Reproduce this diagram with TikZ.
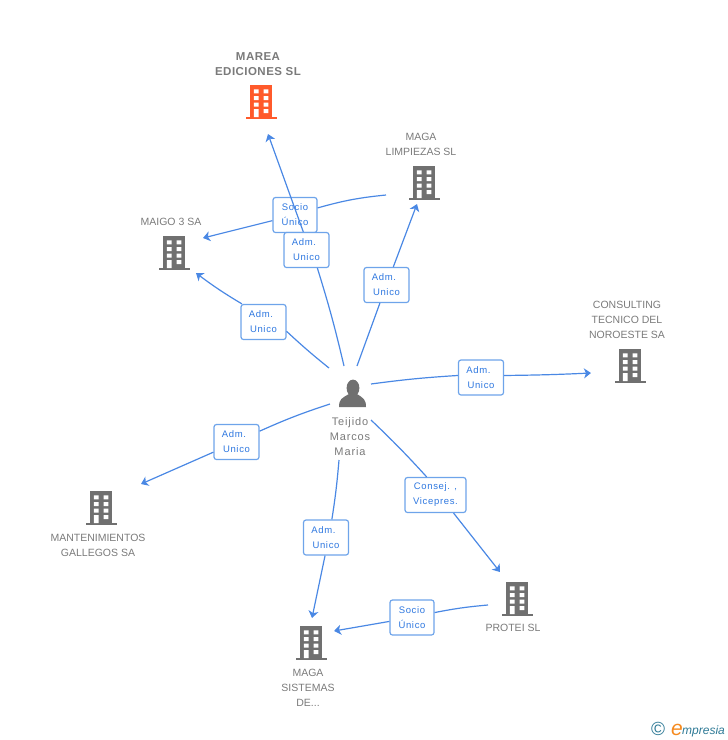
\documentclass[tikz,border=0pt]{standalone}
\usepackage{fontspec}
\setmainfont{Liberation Sans}
\newfontfamily\spacedfont[LetterSpace=7]{Liberation Sans}
\newfontfamily\namefont[LetterSpace=8]{Liberation Sans}
\newfontfamily\titlefont[LetterSpace=4,BoldFont={Liberation Sans Bold}]{Liberation Sans}
\usetikzlibrary{arrows.meta}
\definecolor{edgeblue}{HTML}{4A88E4}
\definecolor{boxblue}{HTML}{6EA4EA}
\definecolor{boxtext}{HTML}{2F78E0}
\definecolor{labelgray}{HTML}{7A7A7A}
\definecolor{icongray}{HTML}{707070}
\definecolor{iconred}{HTML}{FF5A2B}
\definecolor{logoteal}{HTML}{2F7A96}
\definecolor{logoorange}{HTML}{F58A1F}
\newcommand{\admtext}{Adm.\kern5pt\\Unico}
\tikzset{
  x=1pt,y=-1pt,
  edgeline/.style={draw=edgeblue,line width=1.2pt},
  arrowline/.style={edgeline,-{Stealth[length=7pt,width=10pt,inset=2pt]}},
  relbox/.style={draw=boxblue,line width=1.2pt,fill=white,rounded corners=2.5pt,
    inner sep=0pt,minimum height=35pt,align=center,text=boxtext,
    font=\fontsize{9.5}{15}\spacedfont},
  complabel/.style={text=labelgray,align=center,inner sep=0pt,anchor=south,
    font=\fontsize{10.5}{15}\selectfont},
  pics/building/.style={code={
    \fill[#1] (-11,0) rectangle (11,32);
    \fill[#1] (-15.5,32) rectangle (16,34);
    \fill[white] (-7.2,4.3) rectangle (-2.5,8.3) (2.7,4.3) rectangle (7.4,8.3)
      (-7.2,11) rectangle (-2.5,15) (2.7,11) rectangle (7.4,15)
      (-7.2,17.7) rectangle (-2.5,21.7) (2.7,17.7) rectangle (7.4,21.7)
      (-7.2,24) rectangle (-2.5,32) (2.7,24) rectangle (7.4,28);
  }},
}
\begin{document}
\begin{tikzpicture}
\useasboundingbox (0,0) rectangle (728,740);
% buildings
\pic at (261,85) {building=iconred};
\pic at (424,166) {building=icongray};
\pic at (174,236) {building=icongray};
\pic at (630,349) {building=icongray};
\pic at (101,491) {building=icongray};
\pic at (517,582) {building=icongray};
\pic at (311,626) {building=icongray};
% person icon
\fill[icongray] (353,388) ellipse (6.4 and 8.4);
\fill[icongray] (339,407) .. controls (339,399) and (342,398) .. (349,394)
  -- (357,394) .. controls (363,398) and (366,399) .. (366,407) -- cycle;
% labels
\node[complabel,font=\fontsize{11.5}{15}\titlefont\bfseries] (lmarea) at (258,76) {MAREA\\EDICIONES SL};
\node[complabel] (llimp) at (421,156) {MAGA\\LIMPIEZAS SL};
\node[complabel] (lmaigo) at (171,226) {MAIGO 3 SA};
\node[complabel] (lcons) at (627,339) {CONSULTING\\TECNICO DEL\\NOROESTE SA};
\node[complabel,anchor=north] (lmant) at (98,534) {MANTENIMIENTOS\\GALLEGOS SA};
\node[complabel,anchor=north] (lprot) at (513,624) {PROTEI SL};
\node[complabel,anchor=north] (lsist) at (308,669) {MAGA\\SISTEMAS\\DE...};
\node[complabel,anchor=north,font=\fontsize{11}{15}\namefont] (lperson) at (350,417) {Teijido\\Marcos\\Maria};
% free ends
\coordinate (pmarea) at (344,366);
\coordinate (amarea) at (268,134);
\coordinate (slimp) at (386,195);
\coordinate (amaigoa) at (203,238);
\coordinate (plimp) at (357,366);
\coordinate (alimp) at (417,204);
\coordinate (pmaigo) at (329,368);
\coordinate (amaigob) at (196,273);
\coordinate (pcons) at (371,384);
\coordinate (acons) at (591,373);
\coordinate (pmant) at (330,404);
\coordinate (amant) at (141,484);
\coordinate (pprot) at (371,420);
\coordinate (aprot) at (500,572);
\coordinate (psist) at (339,460);
\coordinate (asist) at (312,618);
\coordinate (sprot) at (488,605);
\coordinate (asista) at (334,631);
% Socio box lies under the Marea line
\node[relbox,minimum width=44pt] (bsocioa) at (295,215) {Socio\\Único};
\draw[edgeline] (slimp) to[bend right=5] (bsocioa);
\draw[arrowline] (bsocioa) -- (amaigoa);
% remaining boxes
\node[relbox,minimum width=45pt] (bmarea) at (306.5,250) {\admtext};
\draw[arrowline] (bmarea.100) -- (amarea);
\draw[edgeline] (pmarea) to[bend right=2] (bmarea.-59);
\node[relbox,minimum width=45pt] (blimp) at (386.5,285) {\admtext};
\draw[edgeline] (plimp) -- (blimp);
\draw[arrowline] (blimp) -- (alimp);
\node[relbox,minimum width=45pt] (bmaigo) at (263.5,322) {\admtext};
\draw[edgeline] (pmaigo) to[bend left=2] (bmaigo.-22);
\draw[arrowline] (bmaigo.140) to[bend left=3] (amaigob);
\node[relbox,minimum width=45pt] (bcons) at (481,377.5) {\admtext};
\draw[edgeline] (pcons) to[bend left=2] (bcons.175);
\draw[arrowline] (bcons.5) to[bend right=1] (acons);
\node[relbox,minimum width=45pt] (bmant) at (236.5,442) {\admtext};
\draw[edgeline] (pmant) to[bend right=3] (bmant);
\draw[arrowline] (bmant) -- (amant);
\node[relbox,minimum width=61pt] (bprot) at (435.5,495) {Consej. ,\\Vicepres.};
\draw[edgeline] (pprot) to[bend left=2] (bprot.116);
\draw[arrowline] (bprot.-45) -- (aprot);
\node[relbox,minimum width=45pt] (bsist) at (326,537.5) {\admtext};
\draw[edgeline] (psist) to[bend left=2] (bsist.72);
\draw[arrowline] (bsist.-93) -- (asist);
\node[relbox,minimum width=44pt] (bsociob) at (412,617.5) {Socio\\Único};
\draw[edgeline] (sprot) to[bend right=3] (bsociob);
\draw[arrowline] (bsociob) -- (asista);
% logo
\node[inner sep=0pt,text=logoteal,font=\fontsize{19}{19}\selectfont] (logoc) at (658,729) {©};
\node[inner sep=0pt,text=logoorange,anchor=base west,font=\fontsize{21}{21}\selectfont\itshape] (logoe) at (671,735) {e};
\node[inner sep=0pt,text=logoteal,anchor=base west,font=\fontsize{12}{12}\selectfont\itshape] (logot) at (682,734) {mpresia};
\end{tikzpicture}
\end{document}
